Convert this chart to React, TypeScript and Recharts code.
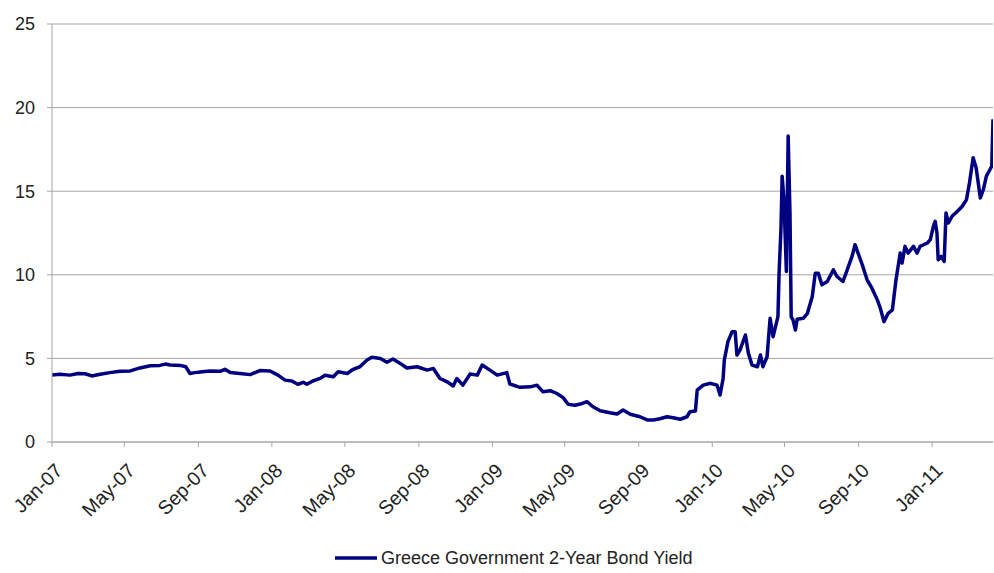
import React from "react";
import { LineChart, Line, XAxis, YAxis, CartesianGrid, Legend } from "recharts";

// Observation dates (ISO) and 2-year yields (%)
const dates = [
  "2007-01-01","2007-01-14","2007-01-31","2007-02-13","2007-02-25","2007-03-08","2007-03-22","2007-04-07",
  "2007-04-24","2007-05-11","2007-05-27","2007-06-13","2007-06-29","2007-07-08","2007-07-16","2007-08-02",
  "2007-08-11","2007-08-18","2007-08-26","2007-09-04","2007-09-20","2007-10-07","2007-10-15","2007-10-24",
  "2007-11-09","2007-11-26","2007-12-12","2007-12-29","2008-01-11","2008-01-23","2008-02-03","2008-02-13",
  "2008-02-22","2008-02-28","2008-03-09","2008-03-21","2008-03-29","2008-04-12","2008-04-20","2008-05-05",
  "2008-05-15","2008-05-26","2008-06-07","2008-06-15","2008-06-29","2008-07-10","2008-07-20","2008-08-01",
  "2008-08-12","2008-08-29","2008-09-15","2008-09-25","2008-10-06","2008-10-18","2008-10-28","2008-11-03",
  "2008-11-13","2008-11-25","2008-12-07","2008-12-15","2008-12-28","2009-01-09","2009-01-25","2009-01-30",
  "2009-02-16","2009-03-05","2009-03-16","2009-03-26","2009-04-07","2009-04-18","2009-04-28","2009-05-07",
  "2009-05-18","2009-05-27","2009-06-07","2009-06-17","2009-06-29","2009-07-15","2009-07-27","2009-08-06",
  "2009-08-18","2009-09-03","2009-09-15","2009-09-25","2009-10-06","2009-10-18","2009-10-28","2009-11-09",
  "2009-11-20","2009-11-25","2009-12-04","2009-12-07","2009-12-17","2009-12-29","2010-01-09","2010-01-14",
  "2010-01-19","2010-01-21","2010-01-27","2010-02-03","2010-02-08","2010-02-11","2010-02-16","2010-02-25",
  "2010-03-02","2010-03-08","2010-03-17","2010-03-22","2010-03-26","2010-04-02","2010-04-07","2010-04-12",
  "2010-04-20","2010-04-22","2010-04-25","2010-04-27","2010-04-30","2010-05-04","2010-05-07","2010-05-10",
  "2010-05-12","2010-05-15","2010-05-19","2010-05-22","2010-06-01","2010-06-08","2010-06-16","2010-06-21",
  "2010-06-26","2010-07-02","2010-07-11","2010-07-21","2010-07-27","2010-08-06","2010-08-13","2010-08-21",
  "2010-08-26","2010-08-31","2010-09-07","2010-09-15","2010-09-23","2010-10-02","2010-10-07","2010-10-13",
  "2010-10-20","2010-10-27","2010-11-02","2010-11-09","2010-11-12","2010-11-17","2010-11-22","2010-12-01",
  "2010-12-07","2010-12-12","2010-12-24","2010-12-29","2011-01-03","2011-01-06","2011-01-09","2011-01-11",
  "2011-01-16","2011-01-21","2011-01-24","2011-01-28","2011-02-03","2011-02-12","2011-02-20","2011-02-27",
  "2011-03-04","2011-03-10","2011-03-15","2011-03-22","2011-03-27","2011-04-01","2011-04-07","2011-04-10",
  "2011-04-12",
];

const yields = [
  4.0, 4.05, 4.0, 4.1, 4.08, 3.95, 4.05, 4.15,
  4.23, 4.25, 4.43, 4.56, 4.58, 4.66, 4.6, 4.58,
  4.5, 4.1, 4.15, 4.19, 4.25, 4.23, 4.35, 4.15,
  4.1, 4.03, 4.27, 4.25, 4.0, 3.7, 3.65, 3.45,
  3.57, 3.45, 3.65, 3.8, 3.99, 3.9, 4.2, 4.1,
  4.35, 4.5, 4.9, 5.07, 5.0, 4.77, 4.96, 4.7,
  4.43, 4.5, 4.3, 4.4, 3.8, 3.6, 3.35, 3.8,
  3.4, 4.07, 4.0, 4.6, 4.3, 4.0, 4.15, 3.47,
  3.27, 3.3, 3.4, 3.0, 3.07, 2.9, 2.67, 2.25,
  2.2, 2.27, 2.41, 2.11, 1.87, 1.75, 1.67, 1.91,
  1.66, 1.51, 1.32, 1.32, 1.39, 1.51, 1.45, 1.36,
  1.51, 1.81, 1.85, 3.1, 3.4, 3.51, 3.4, 2.81,
  3.8, 4.9, 6.0, 6.6, 6.6, 5.2, 5.5, 6.4,
  5.3, 4.6, 4.5, 5.2, 4.5, 5.1, 7.4, 6.3,
  7.5, 10.2, 12.7, 15.9, 14.5, 10.2, 18.3, 13.7,
  7.5, 7.3, 6.7, 7.34, 7.4, 7.7, 8.7, 10.1,
  10.1, 9.4, 9.6, 10.3, 9.9, 9.6, 10.3, 11.1,
  11.8, 11.3, 10.6, 9.7, 9.2, 8.5, 8.0, 7.2,
  7.7, 7.9, 9.7, 11.3, 10.7, 11.7, 11.3, 11.7,
  11.3, 11.7, 11.9, 12.1, 12.9, 13.2, 12.5, 10.9,
  11.1, 10.8, 13.7, 13.1, 13.5, 13.8, 14.1, 14.5,
  15.5, 17.0, 16.4, 14.6, 15.1, 15.9, 16.3, 16.5,
  19.3,
];

// Axis tick labels: every fourth month from Jan-07 to Jan-11
const xTickDates = [
  "2007-01-01","2007-05-01","2007-09-01","2008-01-01","2008-05-01","2008-09-01","2009-01-01",
  "2009-05-01","2009-09-01","2010-01-01","2010-05-01","2010-09-01","2011-01-01",
];
const yTicks = [0, 5, 10, 15, 20, 25];
const seriesName = "Greece Government 2-Year Bond Yield";
const monthNames = ["Jan","Feb","Mar","Apr","May","Jun","Jul","Aug","Sep","Oct","Nov","Dec"];

const toTime = (s: string) => Date.parse(s + "T00:00:00Z");

const data = dates.map((d, i) => ({ t: toTime(d), y: yields[i] }));
const xTicks = xTickDates.map(toTime);

const FONT = "'Liberation Sans', Arial, sans-serif";
const LINE_COLOR = "#000080";
const GRID_COLOR = "#a6a6a6";

const fmtMonth = (v: number) => {
  const d = new Date(v);
  return `${monthNames[d.getUTCMonth()]}-${String(d.getUTCFullYear() % 100).padStart(2, "0")}`;
};

const DateTick = (props: any) => {
  const { x, y, payload } = props;
  const ax = x + 2;
  return (
    <text
      x={ax}
      y={y}
      dy="0.71em"
      textAnchor="end"
      transform={`rotate(-45, ${ax}, ${y})`}
      fill="#222"
      fontSize={19.5}
      fontFamily={FONT}
    >
      {fmtMonth(payload.value)}
    </text>
  );
};

const LegendContent = () => (
  <div
    style={{
      height: 30,
      display: "flex",
      alignItems: "center",
      paddingLeft: 335,
      fontFamily: FONT,
      fontSize: 18,
      color: "#222",
    }}
  >
    <svg width={42} height={8} style={{ marginRight: 4 }}>
      <line x1={0} y1={4} x2={42} y2={4} stroke={LINE_COLOR} strokeWidth={3.5} />
    </svg>
    <span>{seriesName}</span>
  </div>
);

export default function App() {
  return (
    <div style={{ position: "absolute", left: 0, top: 0, background: "#fff" }}>
      <LineChart
        width={994}
        height={573}
        data={data}
        margin={{ top: 24, right: 1, bottom: 0, left: 0 }}
      >
        <CartesianGrid horizontal vertical={false} stroke={GRID_COLOR} />
        <XAxis
          dataKey="t"
          type="number"
          scale="linear"
          domain={[toTime(dates[0]), toTime(dates[dates.length - 1])]}
          ticks={xTicks}
          tick={<DateTick />}
          tickSize={5}
          tickMargin={15}
          height={101}
          stroke={GRID_COLOR}
          interval={0}
          allowDataOverflow
        />
        <YAxis
          type="number"
          domain={[0, 25]}
          ticks={yTicks}
          width={52}
          tickSize={5}
          tickMargin={12}
          stroke={GRID_COLOR}
          tick={{ fill: "#222", fontSize: 18, fontFamily: FONT }}
          interval={0}
        />
        <Legend
          verticalAlign="bottom"
          align="left"
          height={30}
          content={<LegendContent />}
          wrapperStyle={{ left: 0, width: 994 }}
        />
        <Line
          type="linear"
          dataKey="y"
          name={seriesName}
          stroke={LINE_COLOR}
          strokeWidth={3.5}
          strokeLinejoin="round"
          dot={false}
          activeDot={false}
          isAnimationActive={false}
        />
      </LineChart>
    </div>
  );
}
